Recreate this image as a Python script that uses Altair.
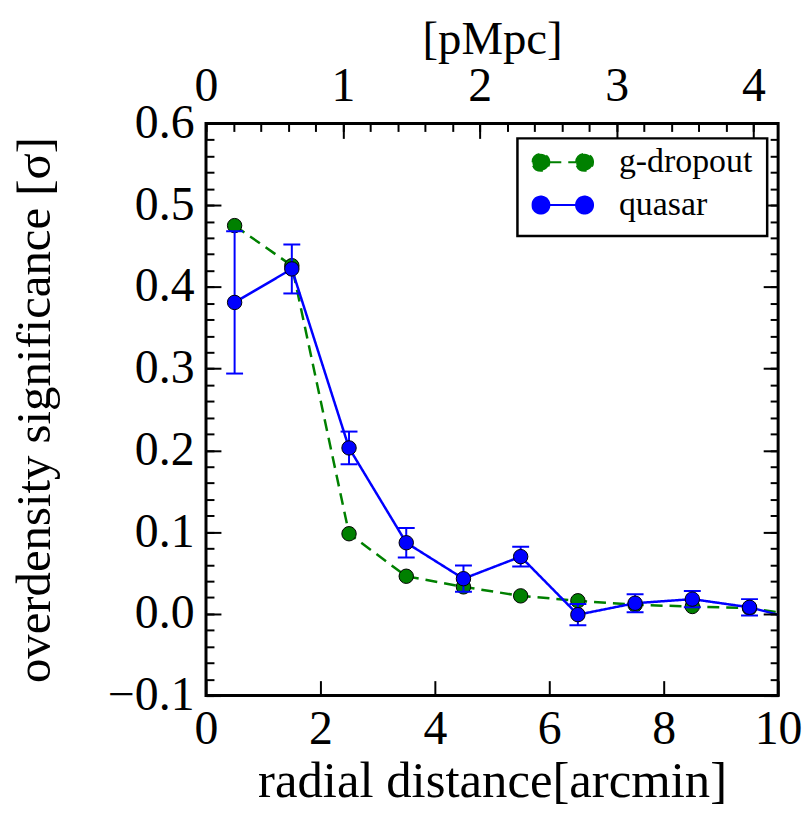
import altair as alt
import pandas as pd

# ---------------- data ----------------
series_names = ["g-dropout", "quasar"]
radius_arcmin = [0.5, 1.5, 2.5, 3.5, 4.5, 5.5, 6.5, 7.5, 8.5, 9.5, 10.5]
gdrop_sig = [0.475, 0.426, 0.098, 0.046, 0.033, 0.022, 0.016, 0.011, 0.009, 0.007, -0.003]
quasar_sig = [0.381, 0.422, 0.203, 0.087, 0.043, 0.070, -0.001, 0.013, 0.018, 0.008, -0.010]
quasar_err = [0.087, 0.030, 0.020, 0.018, 0.016, 0.012, 0.013, 0.011, 0.010, 0.010, 0.010]

x_ticks = [0, 2, 4, 6, 8, 10]
y_ticks = [-0.1, 0.0, 0.1, 0.2, 0.3, 0.4, 0.5, 0.6]
y_minor = [round(-0.1 + 0.02 * i, 2) for i in range(36)]
pmpc_ticks = [0, 1, 2, 3, 4]
pmpc_minor = [round(0.2 * i, 1) for i in range(21)]
pmpc_domain = [0, 4.18]
x_domain = [0, 10]
y_domain = [-0.1, 0.6]

rows = []
for i, r in enumerate(radius_arcmin):
    rows.append({"series": "g-dropout", "r": r, "sig": gdrop_sig[i], "lo": None, "hi": None})
    rows.append({"series": "quasar", "r": r, "sig": quasar_sig[i],
                 "lo": quasar_sig[i] - quasar_err[i], "hi": quasar_sig[i] + quasar_err[i]})
df = pd.DataFrame(rows)
pm = pd.DataFrame({"p": pmpc_ticks})

# ---------------- style ----------------
W = H = 575
FONT = "Liberation Serif"
GREEN = "#008000"
BLUE = "#0000ff"
TICK = "#000000"


def xs():
    return alt.Scale(domain=x_domain, nice=False, zero=False)


def ys():
    return alt.Scale(domain=y_domain, nice=False, zero=False)


def tick_axis(orient, values, size):
    # inward ticks: an axis placed on the opposite edge via a negative offset
    return alt.Axis(orient=orient, offset=-W, values=values, labels=False, domain=False,
                    grid=False, title=None, ticks=True, tickSize=size, tickColor=TICK,
                    tickOpacity=1, tickWidth=2, zindex=2)


fill_scale = alt.Scale(domain=series_names, range=[GREEN, BLUE])
stroke_scale = alt.Scale(domain=series_names, range=[GREEN, BLUE])
dash_scale = alt.Scale(domain=series_names, range=[[12, 7], [1, 0]])

legend_path = ("M-0.44,0L0.44,0 "
               "M-1,0A0.28,0.28 0 1,1 -0.44,0A0.28,0.28 0 1,1 -1,0Z "
               "M0.44,0A0.28,0.28 0 1,1 1,0A0.28,0.28 0 1,1 0.44,0Z")

legend = alt.Legend(
    title=None, orient="none", legendX=313, legendY=15,
    fillColor="white", strokeColor="black", padding=14,
    symbolType=legend_path, symbolSize=3721, symbolStrokeWidth=2,
    labelFont=FONT, labelFontSize=34, labelOffset=25, labelColor="black",
    rowPadding=9, clipHeight=20, cornerRadius=0, zindex=3,
)

g_df = df[df.series == "g-dropout"]
q_df = df[df.series == "quasar"]

green_line = alt.Chart(g_df).mark_line(strokeWidth=2.5, clip=True).encode(
    x=alt.X("r:Q", scale=xs(), axis=alt.Axis(
        orient="bottom", values=x_ticks, format="d", ticks=False, tickSize=0, domain=False,
        grid=False, title="radial distance[arcmin]", labelFont=FONT, labelFontSize=48,
        labelColor="black", labelPadding=10, labelFlush=False, titleFont=FONT,
        titleFontSize=51, titleFontWeight="normal", titleColor="black", titlePadding=3)),
    y=alt.Y("sig:Q", scale=ys(), axis=alt.Axis(
        orient="left", values=y_ticks, format=".1f", ticks=False, tickSize=0, domain=False,
        grid=False, title="overdensity significance [σ]", labelFont=FONT, labelFontSize=48,
        labelColor="black", labelPadding=12, labelFlush=False, titleFont=FONT,
        titleFontSize=49, titleFontWeight="normal", titleColor="black", titlePadding=48)),
    stroke=alt.Stroke("series:N", scale=stroke_scale, legend=legend),
    strokeDash=alt.StrokeDash("series:N", scale=dash_scale, legend=legend),
)

green_pts = alt.Chart(g_df).mark_point(filled=True, size=210, opacity=1, clip=True).encode(
    x=alt.X("r:Q", scale=xs(), axis=tick_axis("top", x_ticks, 15)),
    y=alt.Y("sig:Q", scale=ys(), axis=tick_axis("right", y_ticks, 15)),
    fill=alt.Fill("series:N", scale=fill_scale, legend=legend),
)
green_ring = alt.Chart(g_df).mark_point(filled=False, size=210, stroke="black",
                                        strokeWidth=1, opacity=1, clip=True).encode(
    x=alt.X("r:Q", scale=xs(), axis=None),
    y=alt.Y("sig:Q", scale=ys(), axis=tick_axis("right", y_minor, 8)),
)

err_rule = alt.Chart(q_df).mark_rule(color=BLUE, strokeWidth=2, clip=True).encode(
    x=alt.X("r:Q", scale=xs(), axis=None),
    y=alt.Y("lo:Q", scale=ys(), axis=tick_axis("left", y_ticks, 15)),
    y2="hi:Q",
)
cap_lo = alt.Chart(q_df).mark_tick(color=BLUE, orient="horizontal", size=17, thickness=2,
                                   opacity=1, clip=True).encode(
    x=alt.X("r:Q", scale=xs(), axis=None),
    y=alt.Y("lo:Q", scale=ys(), axis=tick_axis("left", y_minor, 8)),
)
cap_hi = alt.Chart(q_df).mark_tick(color=BLUE, orient="horizontal", size=17, thickness=2,
                                   opacity=1, clip=True).encode(
    x=alt.X("r:Q", scale=xs(), axis=None),
    y=alt.Y("hi:Q", scale=ys(), axis=None),
)

blue_line = alt.Chart(q_df).mark_line(strokeWidth=2.5, clip=True).encode(
    x=alt.X("r:Q", scale=xs(), axis=None),
    y=alt.Y("sig:Q", scale=ys(), axis=None),
    stroke=alt.Stroke("series:N", scale=stroke_scale, legend=legend),
    strokeDash=alt.StrokeDash("series:N", scale=dash_scale, legend=legend),
)
blue_pts = alt.Chart(q_df).mark_point(filled=True, size=210, opacity=1, clip=True).encode(
    x=alt.X("r:Q", scale=xs(), axis=None),
    y=alt.Y("sig:Q", scale=ys(), axis=None),
    fill=alt.Fill("series:N", scale=fill_scale, legend=legend),
)
blue_ring = alt.Chart(q_df).mark_point(filled=False, size=210, stroke="black",
                                       strokeWidth=1, opacity=1, clip=True).encode(
    x=alt.X("r:Q", scale=xs(), axis=None),
    y=alt.Y("sig:Q", scale=ys(), axis=None),
)


def pm_scale():
    return alt.Scale(domain=pmpc_domain, nice=False, zero=False)


pm_labels = alt.Chart(pm).mark_point(opacity=0).encode(
    x=alt.X("p:Q", scale=pm_scale(), axis=alt.Axis(
        orient="top", values=pmpc_ticks, format="d", ticks=False, tickSize=0, domain=False,
        grid=False, title="[pMpc]", labelFont=FONT, labelFontSize=48, labelColor="black",
        labelPadding=13, labelFlush=False, titleFont=FONT, titleFontSize=47,
        titleFontWeight="normal", titleColor="black", titlePadding=-1)),
    y=alt.value(0),
)
pm_major = alt.Chart(pm).mark_point(opacity=0).encode(
    x=alt.X("p:Q", scale=pm_scale(), axis=tick_axis("bottom", pmpc_ticks, 15)),
    y=alt.value(0),
)
pm_minor = alt.Chart(pm).mark_point(opacity=0).encode(
    x=alt.X("p:Q", scale=pm_scale(), axis=tick_axis("bottom", pmpc_minor, 8)),
    y=alt.value(0),
)

chart = alt.layer(
    green_line, green_pts, green_ring, err_rule, cap_lo, cap_hi,
    blue_line, blue_pts, blue_ring, pm_labels, pm_major, pm_minor,
).resolve_scale(
    x="independent"
).resolve_axis(
    x="independent", y="independent"
).properties(
    width=W, height=H,
    autosize=alt.AutoSizeParams(type="none"),
    padding={"left": 199, "top": 114, "right": 25, "bottom": 118},
).configure(
    font=FONT
).configure_view(
    stroke="black", strokeWidth=3
).configure_legend(
    strokeWidth=2.5, labelFont=FONT, labelFontSize=34
)

chart.save("out.html", embed_options={"renderer": "svg", "actions": False})
